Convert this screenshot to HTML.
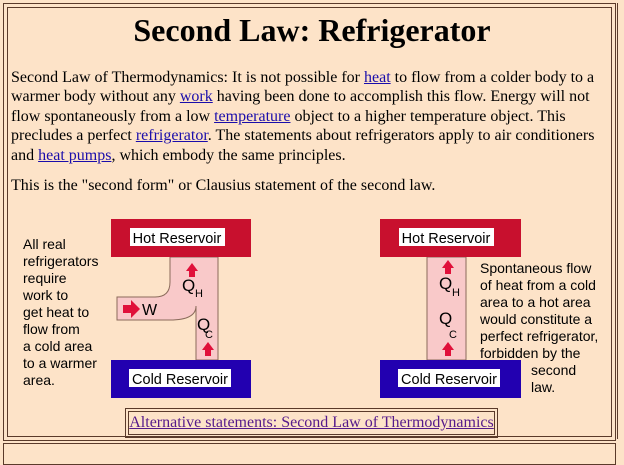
<!DOCTYPE html>
<html><head><style>
body{margin:0;width:624px;height:451px;background:#fde3c8;overflow:hidden;position:relative;font-family:"Liberation Serif",serif;}
.a{position:absolute}
a{color:#1a0dab;text-decoration:underline}
</style></head><body>
<div class="a" style="left:3px;top:3px;width:611px;height:436px;border:1px solid #5a3a2a;"></div>
<div class="a" style="left:7px;top:7px;width:603px;height:428px;border:1px solid #5a3a2a;"></div>
<div class="a" style="left:617px;top:3px;width:10px;height:436px;border-left:1px solid #5a3a2a;"></div>
<div class="a" style="left:3px;top:443px;width:611px;height:20px;border:1px solid #5a3a2a;"></div>
<div class="a" style="left:0;top:12px;width:624px;text-align:center;font-weight:bold;font-size:32px;">Second Law: Refrigerator</div>
<div class="a" style="left:11px;top:68px;width:592px;font-size:16px;line-height:19.4px;">Second Law of Thermodynamics: It is not possible for <a>heat</a> to flow from a colder body to a warmer body without any <a>work</a> having been done to accomplish this flow. Energy will not flow spontaneously from a low <a>temperature</a> object to a higher temperature object. This precludes a perfect <a>refrigerator</a>. The statements about refrigerators apply to air conditioners and <a>heat pumps</a>, which embody the same principles.</div>
<div class="a" style="left:11px;top:177px;font-size:16px;">This is the "second form" or Clausius statement of the second law.</div>
<svg class="a" style="left:0;top:0" width="624" height="451">
<g font-family="Liberation Sans,sans-serif">
<path d="M170 257 H218 V360 H196 V306 Q196 320 170 320 H117 V297 H155 Q170 297 170 282 Z" fill="#f9c9c9" stroke="#8a6a5a" stroke-width="1"/>
<rect x="111" y="219" width="140" height="38" fill="#c8102e"/>
<rect x="130" y="228" width="95" height="18" fill="#fff"/>
<text x="177" y="243" font-size="14.5" text-anchor="middle">Hot Reservoir</text>
<rect x="111" y="360" width="140" height="38" fill="#2200b0"/>
<rect x="129" y="369" width="102" height="18" fill="#fff"/>
<text x="180" y="384" font-size="14.5" text-anchor="middle">Cold Reservoir</text>
<path d="M186 271 L192 263 L198 271 H195 V277 H189 V271Z" fill="#e0103a"/>
<path d="M202 350 L208 342 L214 350 H211 V356 H205 V350Z" fill="#e0103a"/>
<path d="M123 305 H131 V300 L140 309 L131 318 V313 H123Z" fill="#e0103a"/>
<text x="142" y="315" font-size="16">W</text>
<text x="182" y="291" font-size="17">Q</text><text x="195" y="297" font-size="11">H</text>
<text x="197" y="330" font-size="17">Q</text><text x="205" y="338" font-size="11">C</text>
<g font-size="14"><text x="23" y="249">All real</text><text x="23" y="266">refrigerators</text><text x="23" y="283">require</text><text x="23" y="300">work to</text><text x="23" y="317">get heat to</text><text x="23" y="334">flow from</text><text x="23" y="351">a cold area</text><text x="23" y="368">to a warmer</text><text x="23" y="385">area.</text></g>
<rect x="427" y="257" width="39" height="103" fill="#f9c9c9" stroke="#8a6a5a"/>
<rect x="380" y="219" width="141" height="38" fill="#c8102e"/>
<rect x="399" y="228" width="95" height="18" fill="#fff"/>
<text x="446" y="243" font-size="14.5" text-anchor="middle">Hot Reservoir</text>
<rect x="380" y="360" width="141" height="38" fill="#2200b0"/>
<rect x="398" y="369" width="102" height="18" fill="#fff"/>
<text x="449" y="384" font-size="14.5" text-anchor="middle">Cold Reservoir</text>
<path d="M442 268 L448 260 L454 268 H451 V274 H445 V268Z" fill="#e0103a"/>
<path d="M442 350 L448 342 L454 350 H451 V356 H445 V350Z" fill="#e0103a"/>
<text x="439" y="289" font-size="17">Q</text><text x="452" y="296" font-size="11">H</text>
<text x="439" y="324" font-size="17">Q</text><text x="449" y="338" font-size="11">C</text>
<g font-size="14"><text x="480" y="273">Spontaneous flow</text><text x="480" y="290">of heat from a cold</text><text x="480" y="307">area to a hot area</text><text x="480" y="324">would constitute a</text><text x="480" y="341">perfect refrigerator,</text><text x="480" y="358">forbidden by the</text><text x="531" y="375">second</text><text x="531" y="392">law.</text></g>
</g>
</svg>
<div class="a" style="left:125px;top:408px;width:371px;height:28px;border:1px solid #5a3a2a;"></div>
<div class="a" style="left:128px;top:411px;width:365px;height:22px;border:1px solid #5a3a2a;text-align:center;font-size:16px;line-height:22px;white-space:nowrap;"><a style="color:#551a8b">Alternative statements: Second Law of Thermodynamics</a></div>
</body></html>
